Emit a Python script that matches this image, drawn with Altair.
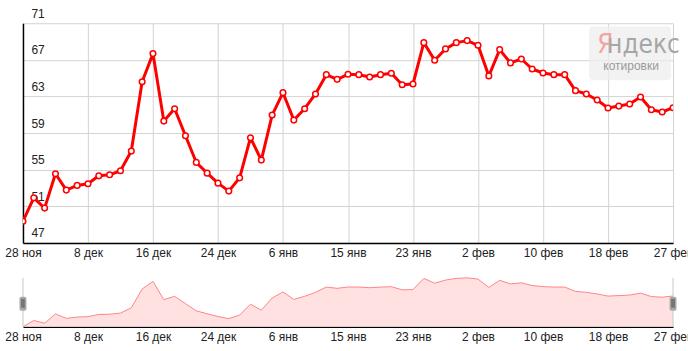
import json
import altair as alt
import pandas as pd

# Trading-day series (index 0..60)
values = [49.37, 51.92, 50.80, 54.55, 52.77, 53.28, 53.46, 54.33, 54.44, 54.88,
          57.03, 64.61, 67.68, 60.31, 61.66, 58.71, 55.79, 54.62, 53.53, 52.66,
          54.11, 58.49, 56.05, 60.97, 63.41, 60.42, 61.66, 63.27, 65.38, 64.87,
          65.42, 65.38, 65.13, 65.38, 65.53, 64.28, 64.36, 68.88, 66.95, 68.19,
          68.88, 69.10, 68.59, 65.24, 68.12, 66.66, 67.09, 66.00, 65.56, 65.38,
          65.38, 63.63, 63.27, 62.61, 61.74, 61.95, 62.17, 62.94, 61.55, 61.30, 61.77]
days = list(range(len(values)))

tick_positions = [0, 6, 12, 18, 24, 30, 36, 42, 48, 54, 60]
tick_labels = ['28 ноя', '8 дек', '16 дек', '24 дек', '6 янв', '15 янв',
               '23 янв', '2 фев', '10 фев', '18 фев', '27 фев']
y_ticks = [47, 51, 55, 59, 63, 67, 71]

df = pd.DataFrame({"i": days, "v": values})

FONT = "Liberation Sans, Arial, sans-serif"
label_expr = "%s[indexof(%s, datum.value)]" % (
    json.dumps(tick_labels, ensure_ascii=False), json.dumps(tick_positions))

W = 651
H_MAIN = 220
H_NAV = 49

x_main = alt.X("i:Q", scale=alt.Scale(domain=[0, 60], nice=False, zero=False),
               axis=alt.Axis(values=tick_positions, labelExpr=label_expr, title=None,
                             tickCount=20,
                             grid=True, gridColor="#d3d3d3", gridWidth=1,
                             domainColor="#000000", domainWidth=1.5,
                             ticks=False, tickSize=0, labelPadding=5,
                             labelFlush=False, labelOverlap=False,
                             labelFont=FONT, labelFontSize=12, labelColor="#222222",
                             labelBaseline="top"))
y_main = alt.Y("v:Q", scale=alt.Scale(domain=[47, 71], nice=False, zero=False),
               axis=alt.Axis(values=y_ticks, tickCount=10, title=None, grid=True,
                             gridColor="#d3d3d3", gridWidth=1,
                             domainColor="#000000", domainWidth=1.5,
                             ticks=False, tickSize=0, labelAlign="left",
                             labelPadding=-8, labelBaseline="bottom", labelOffset=-3,
                             labelOverlap=False, labelFlush=False,
                             labelFont=FONT, labelFontSize=12, labelColor="#222222"))

base = alt.Chart(df)
line = base.mark_line(color="#ff0000", strokeWidth=3, strokeJoin="round", clip=True).encode(
    x=x_main, y=y_main)
pts = base.mark_point(filled=True, fill="#ffffff", stroke="#ff0000", strokeWidth=1.5,
                      size=32, opacity=1, clip=True).encode(x="i:Q", y="v:Q")

one = pd.DataFrame({"a": [1]})
wm_rect = alt.Chart(one).mark_rect(fill="#eeeeee", opacity=0.75, cornerRadius=4).encode(
    x=alt.value(567), x2=alt.value(649), y=alt.value(3), y2=alt.value(57))
wm_ya = alt.Chart(pd.DataFrame({"t": ["Я"]})).mark_text(
    font="Liberation Sans Narrow, DejaVu Sans Condensed, sans-serif", fontSize=26,
    align="left", baseline="alphabetic", color="#f4a3a3").encode(
    text="t:N", x=alt.value(575), y=alt.value(30))
wm_ndeks = alt.Chart(pd.DataFrame({"t": ["ндекс"]})).mark_text(
    font="Liberation Sans Narrow, DejaVu Sans Condensed, sans-serif", fontSize=26,
    align="left", baseline="alphabetic", color="#a6a6a6").encode(
    text="t:N", x=alt.value(585), y=alt.value(30))
wm_kot = alt.Chart(pd.DataFrame({"t": ["котировки"]})).mark_text(
    font=FONT, fontSize=12, align="center", baseline="middle", color="#9a9a9a").encode(
    text="t:N", x=alt.value(609), y=alt.value(43))

main = alt.layer(line, pts, wm_rect, wm_ya, wm_ndeks, wm_kot).properties(
    width=W, height=H_MAIN)

# Navigator
x_nav = alt.X("i:Q", scale=alt.Scale(domain=[0, 60], nice=False, zero=False),
              axis=alt.Axis(values=tick_positions, labelExpr=label_expr, title=None,
                            tickCount=20,
                            grid=False, domainColor="#000000", domainWidth=1.5,
                            ticks=False, tickSize=0, labelPadding=5,
                            labelFlush=False, labelOverlap=False,
                            labelFont=FONT, labelFontSize=12, labelColor="#222222",
                            labelBaseline="top"))
area = alt.Chart(df).mark_area(color="#ffe1e1", opacity=1,
                               line={"color": "#ff8585", "strokeWidth": 1}).encode(
    x=x_nav,
    y=alt.Y("v:Q", stack=None, scale=alt.Scale(zero=False, nice=False), axis=None))

edges = pd.DataFrame({"e": [0, 60]})
edge_rules = alt.Chart(edges).mark_rule(color="#c8c8c8", strokeWidth=1).encode(
    x="e:Q", y=alt.value(0), y2=alt.value(H_NAV))
handles = alt.Chart(edges).mark_rect(fill="#a9a9a9", cornerRadius=2, width=7, height=14).encode(
    x="e:Q", y=alt.value(26))
grip_l = alt.Chart(edges).mark_rule(color="#444444", strokeWidth=1).encode(
    x="e:Q", xOffset=alt.value(-1), y=alt.value(21), y2=alt.value(30))
grip_r = alt.Chart(edges).mark_rule(color="#444444", strokeWidth=1).encode(
    x="e:Q", xOffset=alt.value(1), y=alt.value(21), y2=alt.value(30))

nav = alt.layer(area, edge_rules, handles, grip_l, grip_r).properties(width=W, height=H_NAV)

chart = alt.vconcat(main, nav, spacing=35, bounds="flush").properties(
    padding={"left": 4, "top": 7, "right": -5, "bottom": 9},
    background="#ffffff",
).configure_view(strokeWidth=0)

chart.save("out.html", embed_options={"renderer": "svg", "actions": False})
